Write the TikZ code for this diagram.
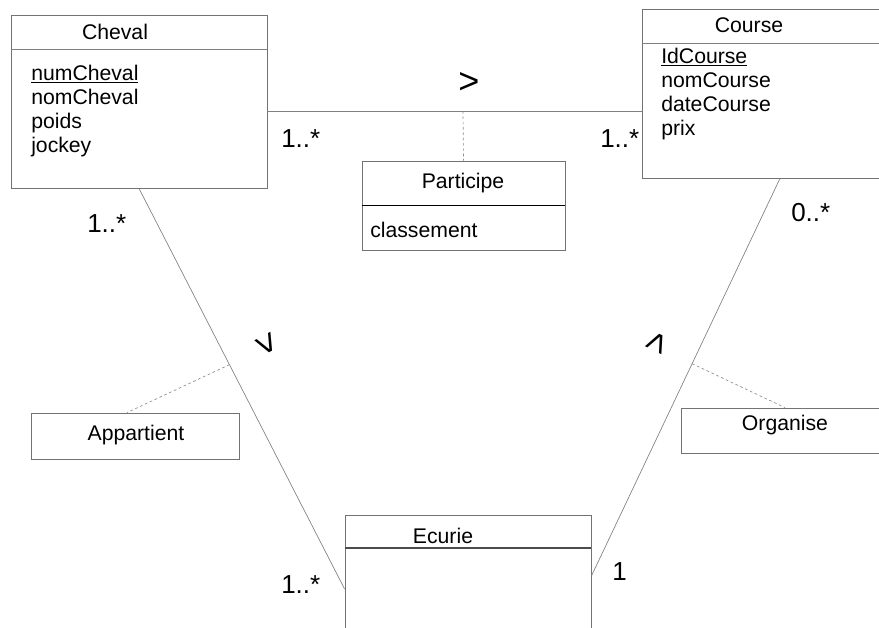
\documentclass[tikz,border=0pt]{standalone}
\usepackage{fontspec}
\setmainfont{Liberation Sans}
\begin{document}
\begin{tikzpicture}[x=0.75pt,y=-0.75pt,
    classbox/.style={draw=black!55, line width=0.6pt, inner sep=0pt},
    link/.style={draw=black!50, line width=0.5pt},
    dashlink/.style={draw=black!45, line width=0.5pt, dash pattern=on 2pt off 2pt},
    txt/.style={anchor=base west, inner sep=0pt, font=\fontsize{15.9}{18}\selectfont},
    ttl/.style={anchor=base, inner sep=0pt, font=\fontsize{15.9}{18}\selectfont},
    mult/.style={anchor=base west, inner sep=0pt, font=\fontsize{19.5}{22}\selectfont},
    sens/.style={inner sep=0pt, font=\fontsize{27}{30}\selectfont}]
  \useasboundingbox (0,0) rectangle (879,628);
  \clip (0,0) rectangle (879,628);

  % classes
  \node[classbox, minimum width=192pt, minimum height=129.75pt] (cheval) at (139,101.5) {};
  \draw[link] (cheval.west |- 0,49) -- (cheval.east |- 0,49);
  \node[ttl] (chevalT) at (115,40) {Cheval};
  \foreach \attr [count=\i] in {\underline{numCheval},nomCheval,poids,jockey}
    \node[txt] (chevalA\i) at (31,56+24*\i) {\attr};

  \node[classbox, minimum width=207pt, minimum height=126.75pt] (course) at (780,93.5) {};
  \draw[link] (course.west |- 0,43) -- (course.east |- 0,43);
  \node[ttl] (courseT) at (749,32) {Course};
  \foreach \attr [count=\i] in {\underline{IdCourse},nomCourse,dateCourse,prix}
    \node[txt] (courseA\i) at (661,39+24*\i) {\attr};

  \node[classbox, minimum width=184.5pt, minimum height=111pt] (ecurie) at (468,589) {};
  \draw[draw=black!70, line width=0.8pt] (ecurie.west |- 0,548) -- (ecurie.east |- 0,548);
  \node[ttl] (ecurieT) at (443,543) {Ecurie};

  % associations
  \node[classbox, minimum width=152.25pt, minimum height=66.75pt] (participe) at (463.5,205.5) {};
  \draw[draw=black, line width=0.7pt] (participe.west |- 0,205) -- (participe.east |- 0,205);
  \node[ttl] (participeT) at (463,188) {Participe};
  \node[txt] (participeA) at (370,237) {classement};

  \node[classbox, minimum width=156pt, minimum height=34.5pt] (appartient) at (135,436) {};
  \node[ttl] (appartientT) at (136,440) {Appartient};

  \node[classbox, minimum width=156pt, minimum height=33.75pt] (organise) at (785,430.5) {};
  \node[ttl] (organiseT) at (785,430) {Organise};

  % liens
  \coordinate (asso) at (463,111);
  \draw[link] (asso -| cheval.east) -- (asso -| course.west);
  \draw[dashlink] (asso) -- (participe.north);
  \draw[link] (cheval.south) -- coordinate[pos=0.44] (appmid) (ecurie.west);
  \draw[dashlink] (appmid) -- (appartient.109);
  \draw[link] (course.south) -- coordinate[pos=0.466] (orgmid) (ecurie.6);
  \draw[dashlink] (orgmid) -- (organise.north);

  % sens de lecture
  \node[sens] (sensP) at (469,83) {>};
  \node[sens, rotate=-62] (sensA) at (266,345) {>};
  \node[sens, rotate=64] (sensO) at (659,343) {>};

  % cardinalites
  \node[mult] (m1) at (281,147) {1..*};
  \node[mult] (m2) at (600,147) {1..*};
  \node[mult] (m3) at (87,232) {1..*};
  \node[mult] (m4) at (791,221) {0..*};
  \node[mult] (m5) at (281,593) {1..*};
  \node[mult] (m6) at (612,580) {1};
\end{tikzpicture}
\end{document}
